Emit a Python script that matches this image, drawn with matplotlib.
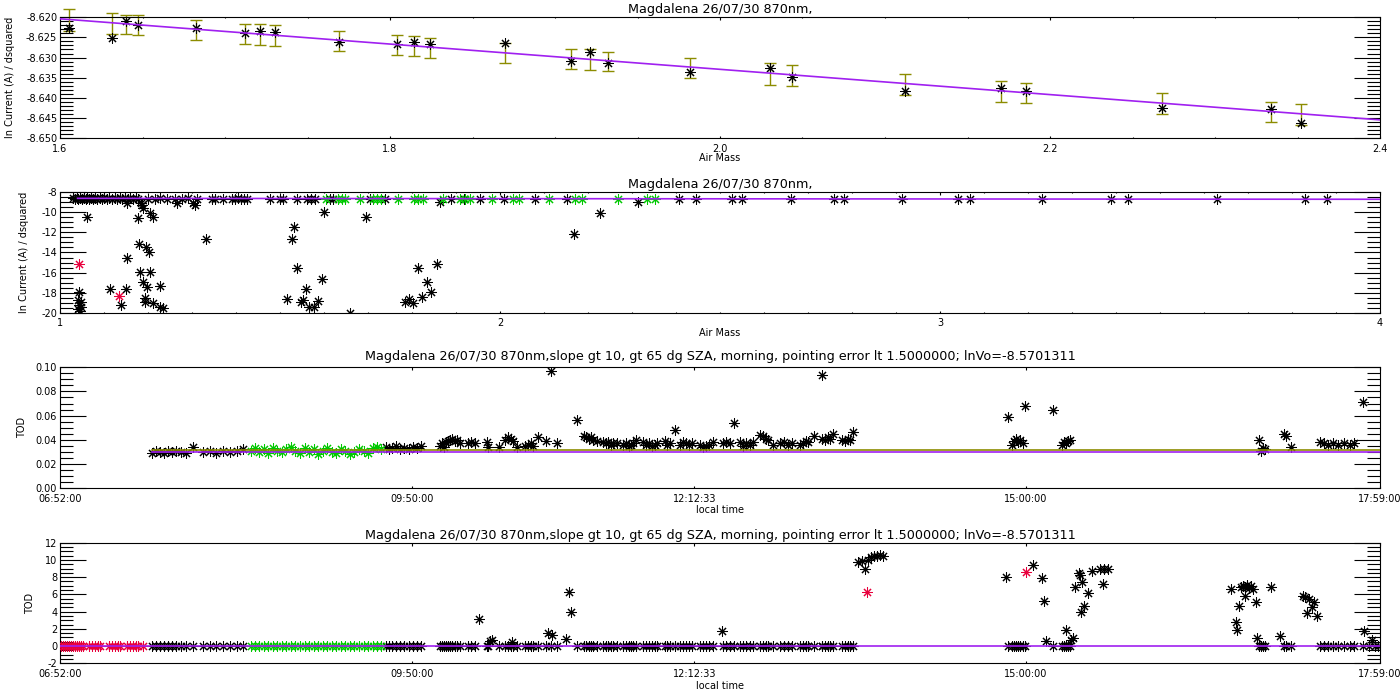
import matplotlib
matplotlib.use('Agg')
import matplotlib.pyplot as plt
from matplotlib.ticker import MultipleLocator, FixedLocator, FormatStrFormatter

plt.rcParams['font.family'] = ['DejaVu Sans']
plt.rcParams['axes.unicode_minus'] = False
plt.rcParams['axes.linewidth'] = 0.8

# ---------------- data ----------------
TITLE_A = "Magdalena 26/07/30 870nm,"
TITLE_B = ("Magdalena 26/07/30 870nm,slope gt 10, gt 65 dg SZA, morning, "
           "pointing error lt 1.5000000; lnVo=-8.5701311")

ln_vo = -8.5701311
fit_slope = -0.0314

# panel 1: selected points (air mass, ln current), error bars (mean, half width)
am1 = [1.6056, 1.6318, 1.6399, 1.6475, 1.6827, 1.7124, 1.7211, 1.7305, 1.7693,
       1.8044, 1.8147, 1.8242, 1.8694, 1.9099, 1.9213, 1.9321, 1.9816, 2.0304,
       2.0439, 2.1124, 2.1705, 2.1856, 2.2679, 2.3342, 2.3521]
lnI1 = [-8.62273, -8.62521, -8.62084, -8.62191, -8.62273, -8.62397, -8.62332,
        -8.62357, -8.62605, -8.62655, -8.62620, -8.62662, -8.62630, -8.63091,
        -8.62853, -8.63141, -8.63364, -8.63250, -8.63488, -8.63820, -8.63753,
        -8.63827, -8.64256, -8.64274, -8.64628]
mean1 = [-8.62067, -8.62157, -8.62175, -8.62198, -8.62315, -8.62414, -8.62434,
         -8.62459, -8.62588, -8.62694, -8.62719, -8.62761, -8.62893, -8.63034,
         -8.63054, -8.63096, -8.63257, -8.63406, -8.63443, -8.63666, -8.63848,
         -8.63889, -8.64145, -8.64356, -8.64418]
err1 = [0.00265, 0.00257, 0.00239, 0.00248, 0.00255, 0.00255, 0.00260, 0.00260,
        0.00256, 0.00248, 0.00248, 0.00255, 0.00248, 0.00255, 0.00260, 0.00243,
        0.00255, 0.00265, 0.00253, 0.00253, 0.00260, 0.00253, 0.00260, 0.00248,
        0.00260]

# panel 2: all points (air mass, ln current)
p2_top = [(1.030, -8.60), (1.034, -8.62), (1.038, -8.58), (1.042, -8.63), (1.046, -8.60),
          (1.050, -8.64), (1.054, -8.59), (1.058, -8.62), (1.062, -8.61), (1.066, -8.65),
          (1.070, -8.60), (1.075, -8.62), (1.080, -8.59), (1.085, -8.63), (1.090, -8.60),
          (1.095, -8.62), (1.100, -8.61), (1.106, -8.64), (1.112, -8.60), (1.118, -8.62),
          (1.124, -8.59), (1.130, -8.63), (1.136, -8.61), (1.142, -8.65), (1.148, -8.60),
          (1.154, -8.62), (1.160, -8.61), (1.166, -8.64), (1.172, -8.60), (1.178, -8.63),
          (1.153, -9.10), (1.183, -9.10), (1.186, -9.30), (1.188, -9.55), (1.200, -8.62),
          (1.216, -8.63), (1.227, -8.60), (1.243, -8.64), (1.261, -8.62), (1.265, -9.10),
          (1.277, -8.63), (1.291, -8.61), (1.303, -9.10), (1.307, -9.30), (1.311, -8.63),
          (1.345, -8.62), (1.352, -8.64), (1.370, -8.63), (1.390, -8.62), (1.397, -8.64),
          (1.404, -8.61), (1.411, -8.65), (1.418, -8.62), (1.425, -8.64), (1.477, -8.63),
          (1.500, -8.64), (1.507, -8.62), (1.538, -8.65), (1.561, -8.63), (1.570, -8.66),
          (1.580, -8.64), (1.614, -8.65), (1.620, -8.63), (1.705, -8.66), (1.739, -8.64),
          (1.864, -8.94), (1.888, -8.66), (1.918, -8.63), (1.954, -8.67), (2.010, -8.64),
          (2.080, -8.66), (2.152, -8.65), (2.314, -8.94), (2.406, -8.65), (2.446, -8.66),
          (2.527, -8.65), (2.549, -8.66), (2.662, -8.65), (2.759, -8.66), (2.781, -8.65),
          (2.914, -8.66), (3.041, -8.65), (3.068, -8.66), (3.231, -8.66), (3.388, -8.66),
          (3.427, -8.67), (3.630, -8.67), (3.830, -8.67), (3.880, -8.68)]
p2_low = [(1.061, -10.43), (1.178, -10.59), (1.205, -10.09), (1.212, -10.43), (1.332, -12.69),
          (1.180, -13.18), (1.195, -13.42), (1.203, -13.92), (1.152, -14.58), (1.182, -15.92),
          (1.205, -15.98), (1.189, -16.91), (1.198, -17.41), (1.227, -17.34), (1.114, -17.67),
          (1.149, -17.67), (1.044, -17.91), (1.193, -18.51), (1.193, -18.91), (1.212, -19.00),
          (1.139, -19.24), (1.227, -19.40), (1.235, -19.57), (1.042, -18.74), (1.047, -18.90),
          (1.044, -19.24), (1.048, -19.40), (1.042, -19.63), (1.046, -19.83), (1.532, -11.43),
          (1.528, -12.66), (1.601, -9.99), (1.695, -10.43), (1.539, -15.58), (1.595, -16.67),
          (1.559, -17.67), (1.515, -18.67), (1.547, -18.90), (1.552, -18.70), (1.567, -19.40),
          (1.577, -19.40), (1.586, -18.80), (1.658, -20.00), (1.814, -15.52), (1.856, -15.18),
          (1.835, -16.91), (1.843, -17.97), (1.823, -18.47), (1.793, -18.67), (1.784, -18.91),
          (1.803, -19.07), (2.169, -12.16), (2.228, -10.10)]
p2_red = [(1.044, -15.18), (1.135, -18.34)]

# panels 3/4: local time in minutes of the day
time_ticks = [412, 590, 732.55, 900, 1079]
time_labels = ['06:52:00', '09:50:00', '12:12:33', '15:00:00', '17:59:00']

p3_black = [(458.5, 0.029), (460.5, 0.031), (462.5, 0.030), (464.6, 0.029), (466.6, 0.031),
            (468.6, 0.030), (470.6, 0.031), (473.1, 0.030), (475.7, 0.029), (479.2, 0.034),
            (484.3, 0.030), (487.8, 0.031), (490.8, 0.029), (494.4, 0.031), (497.9, 0.030),
            (501.4, 0.031), (504.5, 0.032),
            (576.7, 0.034), (578.2, 0.032), (579.8, 0.033), (581.8, 0.035), (583.8, 0.032),
            (585.8, 0.033), (588.3, 0.032), (590.4, 0.034), (592.4, 0.033), (594.4, 0.035),
            (604.0, 0.035), (605.0, 0.037), (606.0, 0.034), (607.0, 0.038), (608.1, 0.039),
            (609.1, 0.040), (610.1, 0.041), (611.6, 0.039), (612.6, 0.040), (614.1, 0.037),
            (618.2, 0.037), (619.7, 0.038), (621.7, 0.037), (627.8, 0.038), (628.3, 0.034),
            (633.8, 0.034), (636.9, 0.040), (638.4, 0.042), (639.9, 0.041), (640.9, 0.039),
            (642.9, 0.034), (647.0, 0.035), (648.5, 0.036), (650.0, 0.037), (651.0, 0.035),
            (653.5, 0.042), (657.6, 0.039), (660.1, 0.097), (663.1, 0.037), (673.2, 0.056),
            (676.8, 0.043), (677.8, 0.042), (679.3, 0.041), (680.3, 0.042), (681.3, 0.040),
            (683.3, 0.039), (686.4, 0.038), (687.9, 0.037), (688.9, 0.038), (690.4, 0.036),
            (691.4, 0.037), (693.4, 0.037), (696.5, 0.036), (698.0, 0.037), (699.5, 0.035),
            (700.5, 0.036), (701.5, 0.037), (703.1, 0.040), (706.6, 0.038), (708.1, 0.036),
            (709.6, 0.037), (711.1, 0.035), (712.7, 0.036), (713.7, 0.037), (717.7, 0.039),
            (718.7, 0.036), (720.2, 0.037), (722.8, 0.048), (725.3, 0.036), (726.8, 0.038),
            (728.3, 0.037), (729.8, 0.036), (731.4, 0.037), (735.4, 0.036), (736.9, 0.034),
            (738.4, 0.035), (739.9, 0.036), (742.0, 0.038), (747.0, 0.037), (748.5, 0.038),
            (750.6, 0.037), (752.6, 0.054), (755.6, 0.038), (757.1, 0.035), (758.6, 0.037),
            (760.7, 0.036), (762.2, 0.038), (765.7, 0.044), (767.2, 0.043), (768.7, 0.041),
            (769.8, 0.040), (772.3, 0.036), (775.8, 0.037), (777.8, 0.038), (779.9, 0.036),
            (781.9, 0.037), (785.9, 0.036), (787.4, 0.037), (789.0, 0.039), (790.0, 0.038),
            (793.0, 0.043), (796.8, 0.094), (797.0, 0.041), (798.5, 0.040), (800.1, 0.042),
            (801.1, 0.041), (802.6, 0.045), (807.1, 0.040), (808.7, 0.039), (810.2, 0.041),
            (811.2, 0.040), (812.7, 0.046),
            (891.0, 0.059), (893.0, 0.036), (894.1, 0.039), (895.1, 0.041), (896.1, 0.038),
            (897.1, 0.040), (898.6, 0.037), (899.6, 0.068), (913.8, 0.065), (918.3, 0.036),
            (919.3, 0.038), (920.3, 0.037), (921.3, 0.039), (922.3, 0.040),
            (1017.9, 0.040), (1018.9, 0.031), (1019.9, 0.033), (1020.9, 0.032), (1030.5, 0.045),
            (1031.5, 0.043), (1034.0, 0.034), (1048.7, 0.038), (1050.7, 0.037), (1052.7, 0.036),
            (1055.2, 0.037), (1057.8, 0.036), (1060.8, 0.037), (1063.8, 0.036), (1065.9, 0.037),
            (1070.4, 0.071)]
t3_green = [508.5, 510.5, 512.6, 515.1, 517.1, 519.6, 521.7, 524.2, 526.2, 528.7,
            530.7, 533.3, 535.8, 537.8, 540.3, 542.4, 544.9, 546.9, 549.4, 551.5,
            554.0, 556.0, 558.5, 560.6, 563.1, 565.6, 567.6, 570.2, 572.2, 574.2]
tod3_green = [0.031, 0.033, 0.030, 0.032, 0.029, 0.033, 0.031, 0.030, 0.032, 0.034,
              0.031, 0.029, 0.033, 0.030, 0.032, 0.028, 0.031, 0.033, 0.030, 0.029,
              0.032, 0.031, 0.028, 0.030, 0.032, 0.031, 0.029, 0.033, 0.034, 0.032]
ref_olive = 0.0315
ref_purple = 0.0298
ref_span = [458.5, 1079]

# panel 4
t4_red_zero = [412.5, 413.5, 414.5, 415.5, 416.5, 417.6, 418.6, 419.6, 420.6, 421.6, 422.6,
               423.6, 426.7, 428.2, 429.7, 431.2, 432.2, 436.8, 438.3, 439.8, 441.3, 442.3,
               445.9, 447.4, 448.9, 450.4, 451.4, 453.9]
t4_extra_zero = [1073.4, 1076.4, 1077.9]
p4_high = [(623.7, 3.15), (629.3, 0.60), (630.3, 0.70), (640.4, 0.50), (658.6, 1.48),
           (660.6, 1.29), (667.7, 0.82), (669.2, 6.24), (670.2, 3.92), (746.5, 1.70),
           (815.2, 9.80), (817.2, 9.90), (818.8, 9.00), (820.3, 10.0), (821.8, 10.3),
           (823.3, 10.4), (824.8, 10.5), (826.3, 10.6), (827.9, 10.5),
           (890.0, 8.06), (903.7, 9.42), (908.2, 7.87), (909.2, 5.27), (910.2, 0.63),
           (920.3, 1.87), (922.9, 0.70), (923.9, 0.95), (924.9, 6.90), (926.9, 8.45),
           (927.4, 8.20), (928.4, 7.48), (929.4, 4.65), (927.9, 3.99), (931.5, 6.13),
           (933.5, 8.75), (937.5, 8.91), (939.5, 8.91), (941.6, 8.91), (939.0, 7.21),
           (1003.7, 6.59), (1006.2, 2.83), (1006.7, 1.87), (1007.7, 4.65), (1008.8, 6.80),
           (1009.8, 7.00), (1010.8, 6.90), (1011.8, 7.10), (1012.8, 6.70), (1013.8, 7.00),
           (1014.8, 6.60), (1011.0, 5.80), (1016.3, 5.15), (1016.8, 0.90), (1023.9, 6.82),
           (1028.5, 1.21), (1040.1, 5.80), (1041.1, 5.70), (1043.1, 5.50), (1045.7, 5.15),
           (1044.6, 4.50), (1042.1, 3.80), (1047.1, 3.53), (1070.9, 1.75), (1074.9, 0.71)]
p4_red = [(820.0, 6.30), (900.0, 8.64)]

# ---------------- drawing ----------------
BLACK, GREEN, RED = 'black', '#00c800', '#e8003c'
OLIVE, PURPLE = '#8c8c00', '#a020f0'
STAR = (8, 2, 0)
FS_TICK, FS_TITLE = 7, 9.2

W, H = 1400, 700
fig = plt.figure(figsize=(W / 100, H / 100), dpi=100)


def axes_px(top, bottom, left=60, right=1380):
    return fig.add_axes([left / W, 1 - bottom / H, (right - left) / W, (bottom - top) / H])


def stars(ax, x, y, color, ms=7.2):
    ax.plot(x, y, ls='none', marker=STAR, ms=ms, mec=color, mfc=color, mew=0.75, zorder=3)


def idl_ticks(ax):
    ax.tick_params(which='both', direction='in', top=True, right=True,
                   labelsize=FS_TICK, width=0.8)
    ax.tick_params(axis='y', which='major', length=18.7, pad=2)
    ax.tick_params(axis='y', which='minor', length=9.4)
    ax.tick_params(axis='x', which='major', length=1.8, pad=4)
    ax.tick_params(axis='x', which='minor', length=0.9)


def labels(ax, xlabel, ylabel, ylab_x_px, xlab_dy_px):
    ax.set_xlabel(xlabel, fontsize=FS_TICK)
    ax.set_ylabel(ylabel, fontsize=FS_TICK)
    ax.xaxis.label.set_va('center')
    ax.yaxis.label.set_va('center')
    ax.yaxis.set_label_coords((ylab_x_px - 60) / 1320, 0.5)
    ax.xaxis.set_label_coords(0.5, -xlab_dy_px / 121)


# ---- panel 1
ax1 = axes_px(17.3, 138)
ax1.errorbar(am1, mean1, yerr=err1, fmt='none', ecolor=OLIVE, elinewidth=1.0,
             capsize=4.5, capthick=1.0, clip_on=False, zorder=2)
stars(ax1, am1, lnI1, BLACK)
fx1 = [1.6, 2.4]
ax1.plot(fx1, [ln_vo + fit_slope * v for v in fx1], color=PURPLE, lw=1.2, zorder=4)
ax1.set_xlim(1.6, 2.4)
ax1.set_ylim(-8.650, -8.620)
ax1.xaxis.set_major_locator(MultipleLocator(0.2))
ax1.xaxis.set_minor_locator(MultipleLocator(0.05))
ax1.yaxis.set_major_locator(MultipleLocator(0.005))
ax1.yaxis.set_minor_locator(MultipleLocator(0.001))
ax1.xaxis.set_major_formatter(FormatStrFormatter('%.1f'))
ax1.yaxis.set_major_formatter(FormatStrFormatter('%.3f'))
idl_ticks(ax1)
ax1.set_title(TITLE_A, fontsize=FS_TITLE, pad=3)
labels(ax1, 'Air Mass', 'ln Current (A) / dsquared', 10, 20)

# ---- panel 2
ax2 = axes_px(192.3, 312.7)
x, y = zip(*p2_top)
stars(ax2, x, y, BLACK)
x, y = zip(*p2_low)
stars(ax2, x, y, BLACK)
stars(ax2, am1, lnI1, GREEN)
x, y = zip(*p2_red)
stars(ax2, x, y, RED)
fx2 = [1.04, 4.0]
ax2.plot(fx2, [ln_vo + fit_slope * v for v in fx2], color=PURPLE, lw=1.2, zorder=4)
ax2.set_xlim(1, 4)
ax2.set_ylim(-20, -8)
ax2.xaxis.set_major_locator(MultipleLocator(1))
ax2.xaxis.set_minor_locator(MultipleLocator(0.1))
ax2.yaxis.set_major_locator(MultipleLocator(2))
ax2.yaxis.set_minor_locator(MultipleLocator(0.5))
ax2.xaxis.set_major_formatter(FormatStrFormatter('%d'))
ax2.yaxis.set_major_formatter(FormatStrFormatter('%d'))
idl_ticks(ax2)
ax2.set_title(TITLE_A, fontsize=FS_TITLE, pad=3)
labels(ax2, 'Air Mass', 'ln Current (A) / dsquared', 24, 20)

# ---- panel 3
ax3 = axes_px(367.3, 488)
x, y = zip(*p3_black)
stars(ax3, x, y, BLACK)
stars(ax3, t3_green, tod3_green, GREEN)
ax3.plot(ref_span, [ref_olive, ref_olive], color=OLIVE, lw=1.2, zorder=4)
ax3.plot(ref_span, [ref_purple, ref_purple], color=PURPLE, lw=1.2, zorder=4)
ax3.set_xlim(time_ticks[0], time_ticks[-1])
ax3.set_ylim(0, 0.10)
ax3.xaxis.set_major_locator(FixedLocator(time_ticks))
ax3.set_xticklabels(time_labels)
ax3.yaxis.set_major_locator(MultipleLocator(0.02))
ax3.yaxis.set_minor_locator(MultipleLocator(0.005))
ax3.yaxis.set_major_formatter(FormatStrFormatter('%.2f'))
idl_ticks(ax3)
ax3.set_title(TITLE_B, fontsize=FS_TITLE, pad=5)
labels(ax3, 'local time', 'TOD', 22, 22)

# ---- panel 4
ax4 = axes_px(542.7, 663.3)
t_black = [p[0] for p in p3_black] + t4_extra_zero
stars(ax4, t_black, [0] * len(t_black), BLACK)
x, y = zip(*p4_high)
stars(ax4, x, y, BLACK)
stars(ax4, t3_green, [0] * len(t3_green), GREEN)
stars(ax4, t4_red_zero, [0] * len(t4_red_zero), RED)
x, y = zip(*p4_red)
stars(ax4, x, y, RED)
ax4.plot([time_ticks[0], time_ticks[-1]], [0, 0], color=PURPLE, lw=1.2, zorder=4)
ax4.set_xlim(time_ticks[0], time_ticks[-1])
ax4.set_ylim(-2, 12)
ax4.xaxis.set_major_locator(FixedLocator(time_ticks))
ax4.set_xticklabels(time_labels)
ax4.yaxis.set_major_locator(MultipleLocator(2))
ax4.yaxis.set_minor_locator(MultipleLocator(0.5))
ax4.yaxis.set_major_formatter(FormatStrFormatter('%d'))
idl_ticks(ax4)
ax4.set_title(TITLE_B, fontsize=FS_TITLE, pad=3)
labels(ax4, 'local time', 'TOD', 30, 23)

fig.savefig('out.png', dpi=100)
